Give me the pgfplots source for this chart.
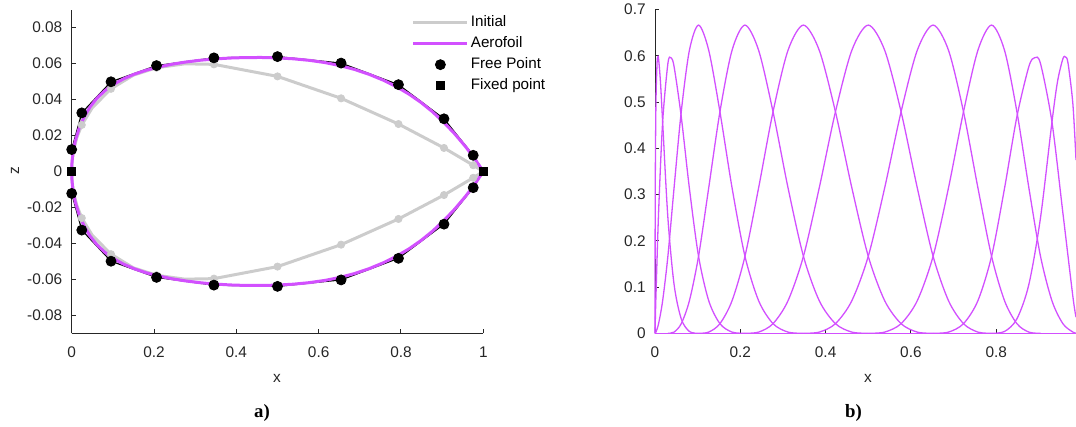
\documentclass[border=0pt]{standalone}
\usepackage{pgfplots}
\pgfplotsset{compat=1.18}
\usepackage{fontspec}
\setmainfont{Liberation Sans}
\newfontfamily\capfont{Liberation Serif}
\definecolor{aero}{RGB}{210,80,255}
\definecolor{initgray}{RGB}{204,204,204}
\definecolor{axgray}{RGB}{38,38,38}
\pgfplotsset{
  mystyle/.style={
    scale only axis, axis lines*=left, tick align=inside, major tick length=2pt,
    axis line style={axgray, line width=0.5pt},
    every tick/.style={axgray, line width=0.5pt},
    tick label style={font=\fontsize{7.7}{9}\selectfont, text=axgray},
    yticklabel style={anchor=east, inner sep=0pt, xshift=-4.5pt},
    xticklabel style={anchor=north, inner sep=0pt, yshift=-6.5pt},
    scaled ticks=false,
    clip=false,
  }
}
\begin{document}
\begin{tikzpicture}
\useasboundingbox (0pt,0pt) rectangle (538pt,213.5pt);
% ---------------- left panel ----------------
\begin{axis}[mystyle, at={(35.85pt,46.85pt)}, anchor=south west,
  width=205.8pt, height=161.8pt,
  xmin=0, xmax=1, ymin=-0.09, ymax=0.09,
  xtick={0,0.2,0.4,0.6,0.8,1}, xticklabels={0,0.2,0.4,0.6,0.8,1},
  ytick={-0.08,-0.06,-0.04,-0.02,0,0.02,0.04,0.06,0.08},
  yticklabels={-0.08,-0.06,-0.04,-0.02,0,0.02,0.04,0.06,0.08},
  legend style={draw=none, fill=none, at={(0.8265,0.988)}, anchor=north west,
    inner sep=0pt, outer sep=0pt, row sep=1.4pt,
    font=\fontsize{7.6}{9}\selectfont,
    nodes={inner sep=1pt, text height=5.5pt, text depth=1.6pt}},
  legend cell align=left,
]
% Initial shape (gray line)
\addplot[initgray, line width=1.5pt,
  legend image code/.code={\draw[initgray, line width=1.5pt] (0pt,0pt) -- (27pt,0pt);}]
coordinates {
(1,0) (0.9755,0.0035) (0.9045,0.0131) (0.7939,0.0264) (0.6545,0.0407) (0.5,0.0529)
(0.3455,0.0596) (0.275,0.0599) (0.2061,0.0577) (0.15,0.0536) (0.0955,0.0460)
(0.05,0.0355) (0.0245,0.0259) (0.0125,0.0189) (0.005,0.0122) (0.001,0.0056) (0,0)
(0.001,-0.0056) (0.005,-0.0122) (0.0125,-0.0189) (0.0245,-0.0259) (0.05,-0.0355)
(0.0955,-0.0460) (0.15,-0.0536) (0.2061,-0.0577) (0.275,-0.0599) (0.3455,-0.0596)
(0.5,-0.0529) (0.6545,-0.0407) (0.7939,-0.0264) (0.9045,-0.0131) (0.9755,-0.0035) (1,0)
};
\addlegendentry{Initial}
\addplot[forget plot, only marks, mark=*, mark size=1.8pt, initgray, mark options={draw=initgray, fill=initgray}]
coordinates {
(0.0245,0.0259) (0.0955,0.0460) (0.2061,0.0577) (0.3455,0.0596) (0.5,0.0529)
(0.6545,0.0407) (0.7939,0.0264) (0.9045,0.0131) (0.9755,0.0035)
(0.0245,-0.0259) (0.0955,-0.0460) (0.2061,-0.0577) (0.3455,-0.0596) (0.5,-0.0529)
(0.6545,-0.0407) (0.7939,-0.0264) (0.9045,-0.0131) (0.9755,-0.0035)
};
% control polygon
\addplot[forget plot, black, line width=0.6pt]
coordinates {
(1,0) (0.9755,0.0090) (0.9045,0.0293) (0.7939,0.0483) (0.6545,0.0603) (0.5,0.0639)
(0.3455,0.0632) (0.2061,0.0589) (0.0955,0.0499) (0.0245,0.0326) (0,0.0122) (0,0)
(0,-0.0122) (0.0245,-0.0326) (0.0955,-0.0499) (0.2061,-0.0589) (0.3455,-0.0632)
(0.5,-0.0639) (0.6545,-0.0603) (0.7939,-0.0483) (0.9045,-0.0293) (0.9755,-0.0090) (1,0)
};
% Aerofoil (B-spline curve)
\addplot[aero, line width=1.5pt,
  legend image code/.code={\draw[aero, line width=1.5pt] (0pt,0pt) -- (27pt,0pt);}]
coordinates {
(1,0) (0.979738,0.006918) (0.956308,0.013980) (0.930681,0.020900) (0.903828,0.027392)
(0.876492,0.033227) (0.848515,0.038415) (0.819514,0.043028) (0.789098,0.047133)
(0.756985,0.050786) (0.723287,0.053979) (0.688216,0.056691) (0.651988,0.058900)
(0.614818,0.060598) (0.576940,0.061836) (0.538588,0.062677) (0.5,0.063183)
(0.461414,0.063414) (0.423061,0.063385) (0.385182,0.063110) (0.348013,0.062600)
(0.311785,0.061860) (0.276714,0.060877) (0.243015,0.059636) (0.210902,0.058117)
(0.180580,0.056299) (0.152225,0.054129) (0.126005,0.051555) (0.102091,0.048517)
(0.080610,0.044957) (0.061522,0.040799) (0.044743,0.035968) (0.030191,0.030384)
(0.017899,0.023984) (0.008362,0.016774) (0.002192,0.008771) (0.000561,0.004481) (0,0)
(0.000561,-0.004481) (0.002192,-0.008771) (0.008362,-0.016774) (0.017899,-0.023984)
(0.030191,-0.030384) (0.044743,-0.035968) (0.061522,-0.040799) (0.080610,-0.044957)
(0.102091,-0.048517) (0.126005,-0.051555) (0.152225,-0.054129) (0.180580,-0.056299)
(0.210902,-0.058117) (0.243015,-0.059636) (0.276714,-0.060877) (0.311785,-0.061860)
(0.348013,-0.062600) (0.385182,-0.063110) (0.423061,-0.063385) (0.461414,-0.063414)
(0.5,-0.063183) (0.538588,-0.062677) (0.576940,-0.061836) (0.614818,-0.060598)
(0.651988,-0.058900) (0.688216,-0.056691) (0.723287,-0.053979) (0.756985,-0.050786)
(0.789098,-0.047133) (0.819514,-0.043028) (0.848515,-0.038415) (0.876492,-0.033227)
(0.903828,-0.027392) (0.930681,-0.020900) (0.956308,-0.013980) (0.979738,-0.006918) (1,0)
};
\addlegendentry{Aerofoil}
\addplot[only marks, mark=*, mark size=2.5pt, black,
  legend image code/.code={\draw[black] plot[only marks, mark=*, mark size=2.5pt] coordinates {(13.5pt,0pt)};}]
coordinates {
(0,0.0122) (0.0245,0.0326) (0.0955,0.0499) (0.2061,0.0589) (0.3455,0.0632) (0.5,0.0639)
(0.6545,0.0603) (0.7939,0.0483) (0.9045,0.0293) (0.9755,0.0090)
(0,-0.0122) (0.0245,-0.0326) (0.0955,-0.0499) (0.2061,-0.0589) (0.3455,-0.0632) (0.5,-0.0639)
(0.6545,-0.0603) (0.7939,-0.0483) (0.9045,-0.0293) (0.9755,-0.0090)
};
\addlegendentry{Free Point}
\addplot[only marks, mark=square*, mark size=2pt, black,
  legend image code/.code={\draw[black] plot[only marks, mark=square*, mark size=2pt] coordinates {(13.5pt,0pt)};}]
coordinates {(0,0) (1,0)};
\addlegendentry{Fixed point}
\end{axis}
% ---------------- right panel ----------------
\begin{axis}[mystyle, at={(327.5pt,46.85pt)}, anchor=south west,
  width=210.5pt, height=161.8pt,
  xmin=0, xmax=0.9871, ymin=0, ymax=0.7,
  xtick={0,0.2,0.4,0.6,0.8}, xticklabels={0,0.2,0.4,0.6,0.8},
  ytick={0,0.1,0.2,0.3,0.4,0.5,0.6,0.7},
  yticklabels={0,0.1,0.2,0.3,0.4,0.5,0.6,0.7},
]
\addplot[aero, line width=0.65pt] coordinates {(0,0) (0.9871,0)};
\addplot[aero, line width=0.65pt, smooth] coordinates {(0,0) (0.000561,0.308105) (0.002192,0.496094) (0.004818,0.584473) (0.006481,0.597717) (0.008362,0.59375) (0.012748,0.544434) (0.017899,0.457031) (0.030191,0.25) (0.044743,0.105469) (0.061522,0.03125) (0.080610,0.003906) (0.102091,0)};
\addplot[aero, line width=0.65pt, smooth] coordinates {(0,0) (0.000561,0.021647) (0.002192,0.079427) (0.008362,0.260417) (0.017899,0.457031) (0.030191,0.583333) (0.037193,0.596191) (0.044743,0.576823) (0.061522,0.46875) (0.080610,0.313802) (0.102091,0.166667) (0.126005,0.070313) (0.152225,0.020833) (0.180580,0.002604) (0.210902,0)};
\addplot[aero, line width=0.65pt, smooth] coordinates {(0,0) (0.002192,0.002604) (0.008362,0.020833) (0.017899,0.070313) (0.030191,0.166667) (0.044743,0.315104) (0.061522,0.479167) (0.080610,0.611979) (0.102091,0.666667) (0.126005,0.611979) (0.152225,0.479167) (0.180580,0.315104) (0.210902,0.166667) (0.243015,0.070313) (0.276714,0.020833) (0.311785,0.002604) (0.348013,0)};
\addplot[aero, line width=0.65pt, smooth] coordinates {(0.030191,0) (0.044743,0.002604) (0.061522,0.020833) (0.080610,0.070313) (0.102091,0.166667) (0.126005,0.315104) (0.152225,0.479167) (0.180580,0.611979) (0.210902,0.666667) (0.243015,0.611979) (0.276714,0.479167) (0.311785,0.315104) (0.348013,0.166667) (0.385182,0.070313) (0.423061,0.020833) (0.461414,0.002604) (0.5,0)};
\addplot[aero, line width=0.65pt, smooth] coordinates {(0.102091,0) (0.126005,0.002604) (0.152225,0.020833) (0.180580,0.070313) (0.210902,0.166667) (0.243015,0.315104) (0.276714,0.479167) (0.311785,0.611979) (0.348013,0.666667) (0.385182,0.611979) (0.423061,0.479167) (0.461414,0.315104) (0.5,0.166667) (0.538588,0.070313) (0.576940,0.020833) (0.614818,0.002604) (0.651988,0)};
\addplot[aero, line width=0.65pt, smooth] coordinates {(0.210902,0) (0.243015,0.002604) (0.276714,0.020833) (0.311785,0.070313) (0.348013,0.166667) (0.385182,0.315104) (0.423061,0.479167) (0.461414,0.611979) (0.5,0.666667) (0.538588,0.611979) (0.576940,0.479167) (0.614818,0.315104) (0.651988,0.166667) (0.688216,0.070313) (0.723287,0.020833) (0.756985,0.002604) (0.789098,0)};
\addplot[aero, line width=0.65pt, smooth] coordinates {(0.348013,0) (0.385182,0.002604) (0.423061,0.020833) (0.461414,0.070313) (0.5,0.166667) (0.538588,0.315104) (0.576940,0.479167) (0.614818,0.611979) (0.651988,0.666667) (0.688216,0.611979) (0.723287,0.479167) (0.756985,0.315104) (0.789098,0.166667) (0.819514,0.070313) (0.848515,0.020833) (0.876492,0.002604) (0.903828,0)};
\addplot[aero, line width=0.65pt, smooth] coordinates {(0.5,0) (0.538588,0.002604) (0.576940,0.020833) (0.614818,0.070313) (0.651988,0.166667) (0.688216,0.315104) (0.723287,0.479167) (0.756985,0.611979) (0.789098,0.666667) (0.819514,0.611979) (0.848515,0.479167) (0.876492,0.315104) (0.903828,0.166667) (0.930681,0.070313) (0.956308,0.020833) (0.979738,0.002604) (0.9871,0.0005)};
\addplot[aero, line width=0.65pt, smooth] coordinates {(0.651988,0) (0.688216,0.002604) (0.723287,0.020833) (0.756985,0.070313) (0.789098,0.166667) (0.819514,0.313802) (0.848515,0.46875) (0.876492,0.576823) (0.890215,0.596191) (0.903828,0.583333) (0.930681,0.457031) (0.956308,0.260417) (0.979738,0.079427) (0.9871,0.0349)};
\addplot[aero, line width=0.65pt, smooth] coordinates {(0.789098,0) (0.819514,0.003906) (0.848515,0.03125) (0.876492,0.105469) (0.903828,0.25) (0.930681,0.457031) (0.943709,0.544434) (0.956308,0.59375) (0.962411,0.597717) (0.968360,0.584473) (0.979738,0.496094) (0.9871,0.3745)};
\end{axis}
% labels
\node[font=\fontsize{7.7}{9}\selectfont, text=axgray] at (138.5pt,24.5pt) {x};
\node[font=\fontsize{7.7}{9}\selectfont, text=axgray, rotate=90] at (7.5pt,128pt) {z};
\node[font=\fontsize{7.7}{9}\selectfont, text=axgray] at (434pt,24.5pt) {x};
\node[font=\capfont\bfseries\fontsize{9.4}{11}\selectfont] at (131pt,7pt) {a)};
\node[font=\capfont\bfseries\fontsize{9.4}{11}\selectfont] at (426.7pt,7pt) {b)};
\end{tikzpicture}
\end{document}
